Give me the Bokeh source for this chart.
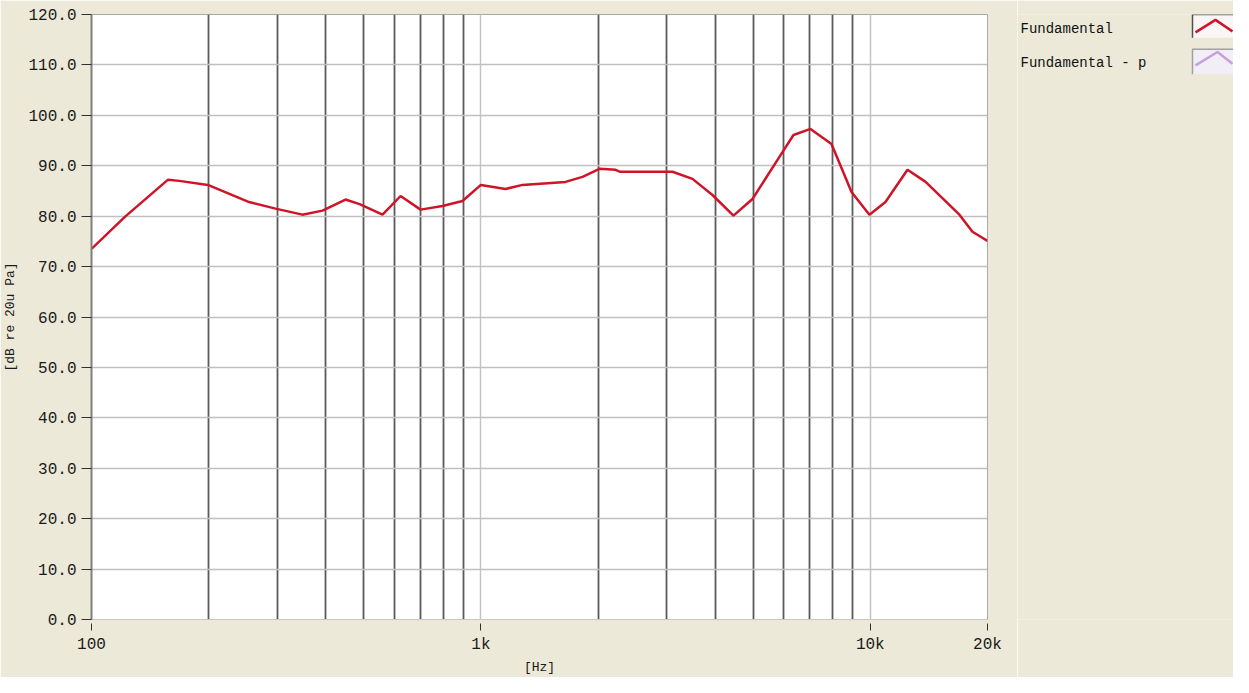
from bokeh.plotting import figure
from bokeh.models import Range1d, FixedTicker
from bokeh.layouts import row
from bokeh.embed import file_html
from bokeh.resources import INLINE
from bokeh.core.properties import value

# ---- data ----
freqs = [100, 122, 157, 168, 199, 254, 297, 348, 392, 449, 488, 559, 622, 700,
         797, 897, 1000, 1157, 1279, 1649, 1824, 2016, 2217, 2280, 3105, 3495,
         3933, 4453, 4983, 5950, 6350, 7022, 7950, 8950, 9950, 10940, 12460,
         13870, 16940, 18300, 20000]
levels = [73.5, 79.9, 87.2, 87.0, 86.2, 82.8, 81.5, 80.3, 81.1, 83.3, 82.4, 80.3,
          84.0, 81.3, 82.0, 83.0, 86.2, 85.4, 86.2, 86.8, 87.8, 89.4, 89.2, 88.8,
          88.8, 87.4, 84.2, 80.1, 83.4, 92.7, 96.1, 97.3, 94.3, 84.8, 80.3, 82.8,
          89.2, 86.8, 80.3, 76.9, 75.1]

y_ticks = [0, 10, 20, 30, 40, 50, 60, 70, 80, 90, 100, 110, 120]
y_tick_labels = ["0.0", "10.0", "20.0", "30.0", "40.0", "50.0", "60.0", "70.0",
                 "80.0", "90.0", "100.0", "110.0", "120.0"]
x_ticks = [100, 1000, 10000, 20000]
x_tick_labels = ["100", "1k", "10k", "20k"]
x_minor = [200, 300, 400, 500, 600, 700, 800, 900,
           2000, 3000, 4000, 5000, 6000, 7000, 8000, 9000]

legend_labels = ["Fundamental", "Fundamental - p"]
legend_colors = ["#D01428", "#C8A0DC"]

BG = "#ECE9D8"
FONT = "Liberation Mono"

# ---- main chart ----
p = figure(width=1017, height=677, x_axis_type="log",
           x_range=Range1d(100, 20000), y_range=Range1d(0, 120),
           output_backend="svg", toolbar_location=None,
           min_border_left=91, min_border_right=30,
           min_border_top=14, min_border_bottom=56)
p.background_fill_color = "white"
p.border_fill_color = BG
p.outline_line_color = "#a8a8a8"

p.xaxis.ticker = FixedTicker(ticks=x_ticks, minor_ticks=x_minor)
p.xaxis.major_label_overrides = dict(zip(x_ticks, x_tick_labels))
p.yaxis.ticker = FixedTicker(ticks=y_ticks)
p.yaxis.major_label_overrides = dict(zip(y_ticks, y_tick_labels))

for ax in (p.xaxis[0], p.yaxis[0]):
    ax.major_label_text_font = FONT
    ax.major_label_text_font_size = "16px"
    ax.major_label_text_color = "#1a1a1a"
    ax.axis_label_text_font = FONT
    ax.axis_label_text_font_size = "13px"
    ax.axis_label_text_font_style = "normal"
    ax.axis_label_text_color = "#1a1a1a"
    ax.minor_tick_line_color = None
    ax.major_tick_line_color = "#303030"

p.xaxis.axis_label = "[Hz]"
p.yaxis.axis_label = "[dB re 20u Pa]"

p.yaxis.axis_line_color = "#808080"
p.yaxis.axis_line_width = 2
p.yaxis.major_tick_in = 0
p.yaxis.major_tick_out = 10
p.yaxis.major_label_standoff = 5
p.yaxis.axis_label_standoff = 7

p.xaxis.axis_line_color = "#c8c8c8"
p.xaxis.major_tick_in = -4
p.xaxis.major_tick_out = 11
p.xaxis.major_label_standoff = 5
p.xaxis.axis_label_standoff = 3

p.xgrid.grid_line_color = "#c4c4c4"
p.xgrid.grid_line_width = 1.5
p.xgrid.minor_grid_line_color = "#5a5a5a"
p.xgrid.minor_grid_line_width = 1.8
p.ygrid.grid_line_color = "#c0c0c0"
p.ygrid.grid_line_width = 1.5

p.line(freqs, levels, line_color=legend_colors[0], line_width=2.5)

# ---- legend panel ----
lg = figure(width=216, height=677, x_range=Range1d(0, 216), y_range=Range1d(677, 0),
            output_backend="svg", toolbar_location=None, min_border=0)
lg.background_fill_color = BG
lg.border_fill_color = BG
lg.outline_line_color = None
lg.axis.visible = False
lg.grid.visible = False

lg.text(x=[3, 3], y=[16, 54], text=legend_labels, text_font=value(FONT),
        text_font_size="14px", text_baseline="middle", text_color="#111111")
# swatch boxes (sunken frames)
lg.quad(left=[175, 175], right=[216, 216], top=[0, 39], bottom=[26, 67],
        fill_color=["#FBF6F6", "#F2EEF6"], line_color=None)
lg.multi_line(xs=[[175, 175, 216], [175, 175, 216]],
              ys=[[26, 0, 0], [67, 39, 39]],
              line_color=["#505050", "#a0a0a0"], line_width=1.5)
lg.multi_line(xs=[[178, 198, 215], [178, 200, 215]],
              ys=[[20, 6, 19], [57, 42, 55]],
              line_color=legend_colors, line_width=2.5)

layout = row(p, lg, spacing=0)
open("out.html", "w").write(file_html(layout, INLINE))
